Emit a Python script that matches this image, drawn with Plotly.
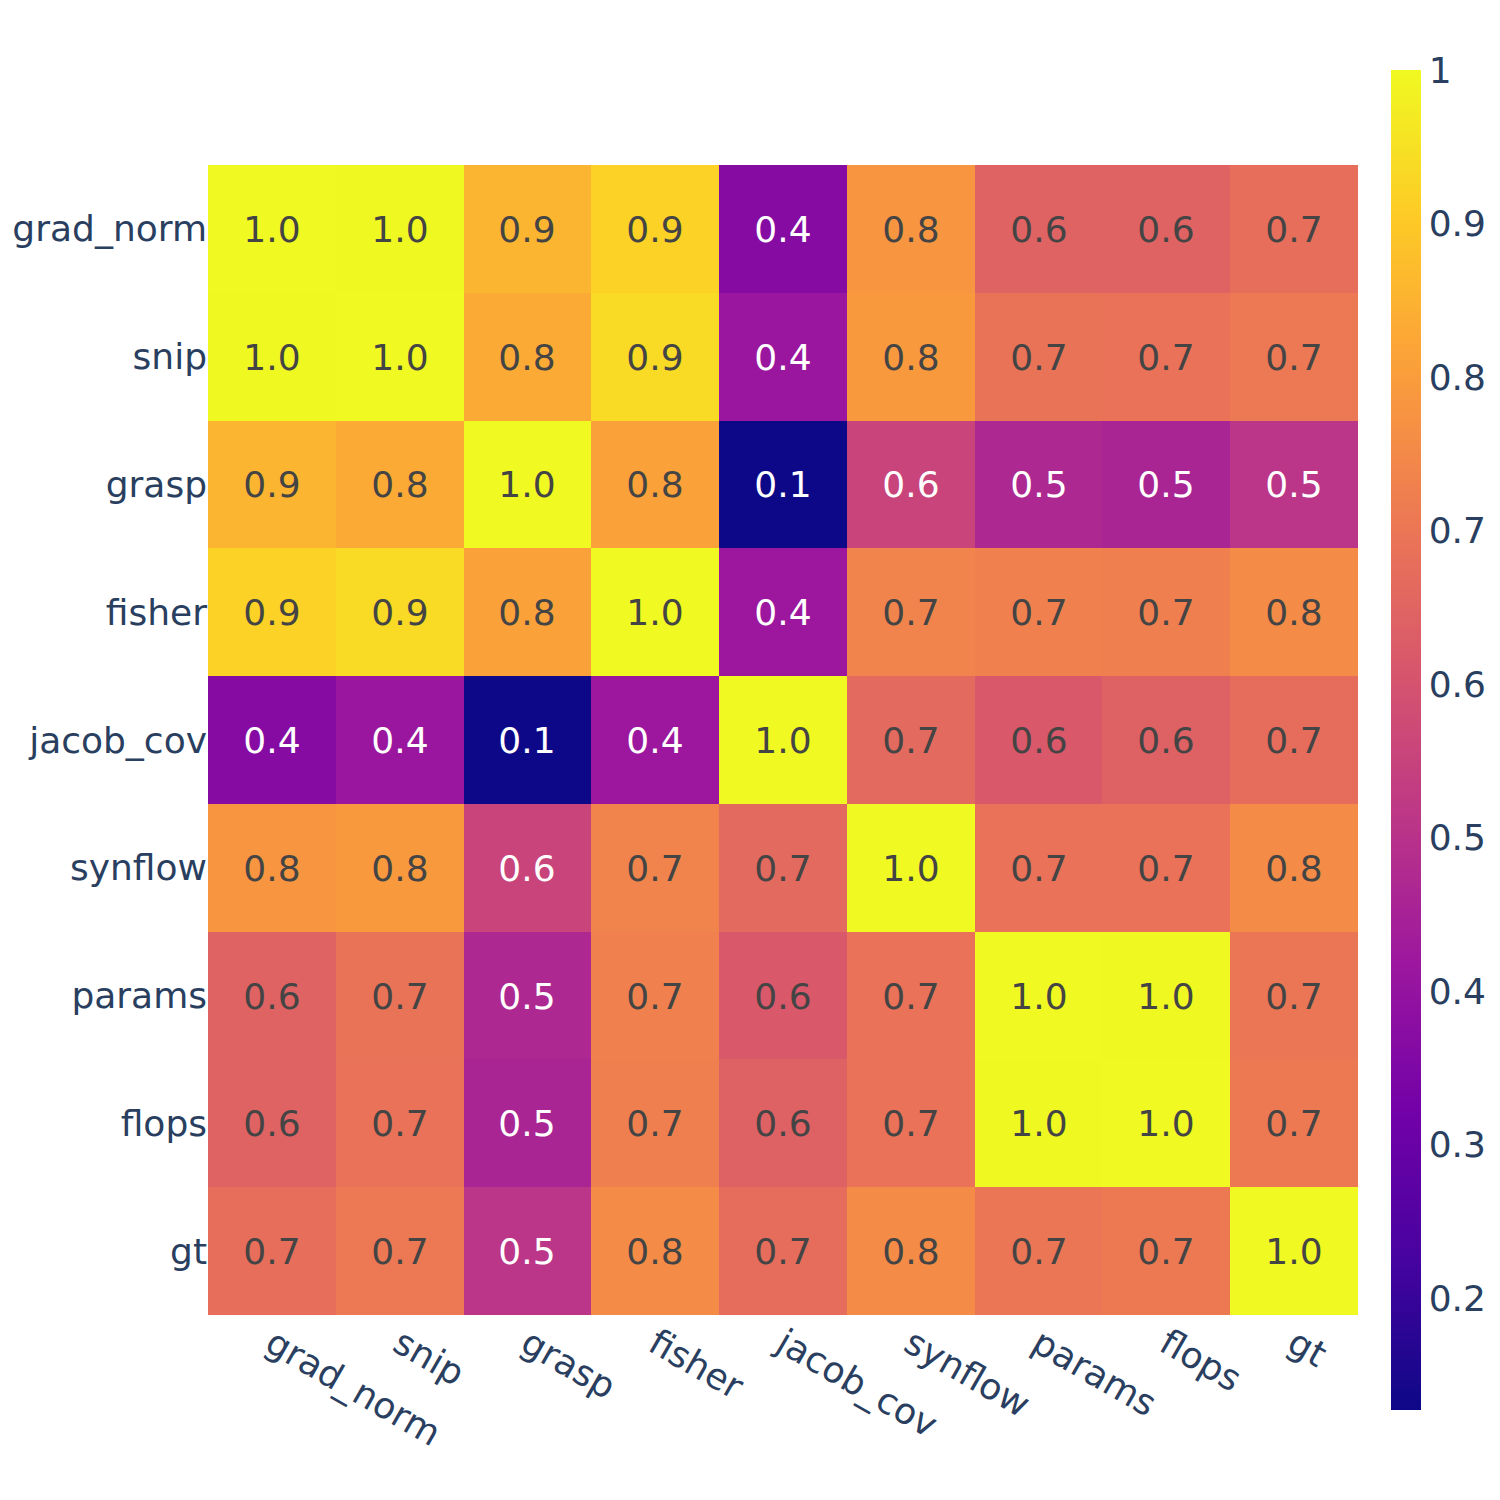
import plotly.express as px
import numpy as np

labels = ["grad_norm", "snip", "grasp", "fisher", "jacob_cov", "synflow", "params", "flops", "gt"]

row_grad_norm = [1.000, 0.997, 0.855, 0.920, 0.365, 0.780, 0.645, 0.645, 0.677]
row_snip      = [0.997, 1.000, 0.830, 0.935, 0.415, 0.790, 0.691, 0.690, 0.705]
row_grasp     = [0.855, 0.830, 1.000, 0.810, 0.127, 0.555, 0.470, 0.460, 0.508]
row_fisher    = [0.920, 0.935, 0.810, 1.000, 0.418, 0.737, 0.730, 0.725, 0.755]
row_jacob_cov = [0.365, 0.415, 0.127, 0.418, 1.000, 0.665, 0.616, 0.640, 0.675]
row_synflow   = [0.780, 0.790, 0.555, 0.737, 0.665, 1.000, 0.690, 0.690, 0.755]
row_params    = [0.645, 0.691, 0.470, 0.730, 0.616, 0.690, 1.000, 0.997, 0.700]
row_flops     = [0.645, 0.690, 0.460, 0.725, 0.640, 0.690, 0.997, 1.000, 0.710]
row_gt        = [0.677, 0.705, 0.508, 0.755, 0.675, 0.755, 0.700, 0.710, 1.000]

z = np.array([row_grad_norm, row_snip, row_grasp, row_fisher, row_jacob_cov,
              row_synflow, row_params, row_flops, row_gt])

fig = px.imshow(z, x=labels, y=labels, text_auto=".1f",
                color_continuous_scale="plasma")
fig.update_layout(width=1500, height=1500,
                  font=dict(family="DejaVu Sans", size=36),
                  template="plotly_white",
                  margin=dict(l=200, r=150, t=52, b=88, autoexpand=False))
fig.update_xaxes(tickangle=30, automargin=False)
fig.update_yaxes(automargin=False)
fig.write_html("out.html")
